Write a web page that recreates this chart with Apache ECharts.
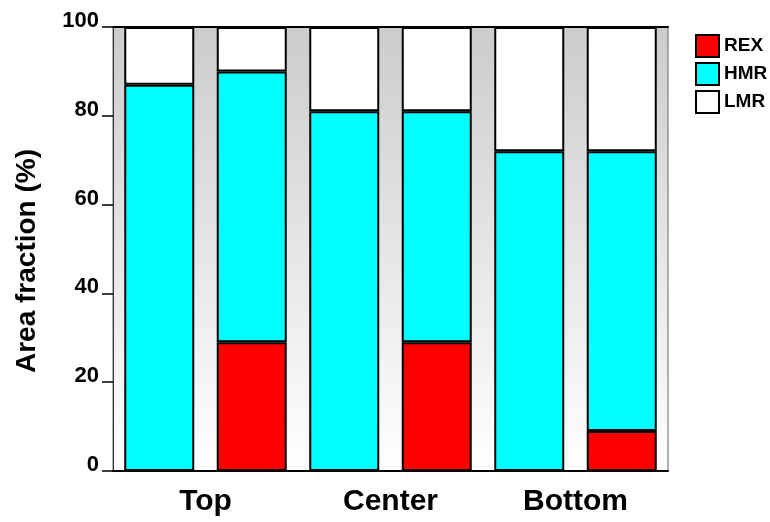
<!DOCTYPE html>
<html><head><meta charset="utf-8">
<script src="https://cdn.jsdelivr.net/npm/echarts@6/dist/echarts.min.js"></script>
<style>html,body{margin:0;padding:0;background:#fff}#c{width:770px;height:522px}</style>
</head><body><div id="c"></div>
<script>
const bars = ['b1','b2','b3','b4','b5','b6'];
const groups = ['Top','Center','Bottom'];
const REX = [0, 29, 0, 29, 0, 9];
const HMR = [87, 61, 81, 52, 72, 63];
const LMR = [13, 10, 19, 19, 28, 28];
const yTicks = [0, 20, 40, 60, 80, 100];
const yTitle = 'Area fraction (%)';

const chart = echarts.init(document.getElementById('c'));
const font = 'Liberation Sans, Arial, sans-serif';
const barStyle = c => ({color: c, borderColor: '#000', borderWidth: 2});
chart.setOption({
  animation: false,
  grid: {left: 113, right: 102, top: 27, bottom: 51, show: true,
    borderColor: '#666', borderWidth: 1,
    backgroundColor: {type: 'linear', x: 0, y: 0, x2: 0, y2: 1,
      colorStops: [{offset: 0, color: '#cccccc'}, {offset: 1, color: '#ffffff'}]}},
  legend: {orient: 'vertical', left: 690, top: 29, itemWidth: 23, itemHeight: 22, itemGap: 4,
    icon: 'rect',
    textStyle: {fontFamily: font, fontWeight: 'bold', fontSize: 19, color: '#000', padding: [3, 0, 0, 0]},
    data: ['REX', 'HMR', 'LMR']},
  graphic: [{type: 'text', rotation: Math.PI / 2,
    style: {text: yTitle, font: 'bold 28px ' + font, fill: '#000', textAlign: 'center', textVerticalAlign: 'middle'},
    position: [27, 261]}],
  xAxis: [
    {type: 'category', data: bars, position: 'bottom',
      axisLine: {lineStyle: {color: '#000', width: 2}}, axisTick: {show: false}, axisLabel: {show: false}},
    {type: 'category', data: groups, position: 'bottom', offset: 0,
      axisLine: {show: false}, axisTick: {show: false},
      axisLabel: {fontFamily: font, fontWeight: 'bold', fontSize: 30, color: '#000', margin: 16}},
    {type: 'category', data: bars, position: 'top',
      axisLine: {lineStyle: {color: '#000', width: 2}}, axisTick: {show: false}, axisLabel: {show: false}}
  ],
  yAxis: {type: 'value', min: 0, max: 100, interval: 20,
    axisLine: {show: true, lineStyle: {color: '#333', width: 1}},
    axisTick: {show: true, length: 11, lineStyle: {color: '#000', width: 1.5}},
    axisLabel: {fontFamily: font, fontWeight: 'bold', fontSize: 22, color: '#000', margin: 14,
      verticalAlign: 'bottom', lineHeight: 12,
      formatter: v => yTicks.includes(v) ? String(v) : ''},
    splitLine: {show: false}},
  series: [
    {name: 'REX', type: 'bar', stack: 's', data: REX, barWidth: 70, itemStyle: barStyle('#ff0000')},
    {name: 'HMR', type: 'bar', stack: 's', data: HMR, barWidth: 70, itemStyle: barStyle('#00ffff')},
    {name: 'LMR', type: 'bar', stack: 's', data: LMR, barWidth: 70, itemStyle: barStyle('#ffffff')}
  ]
});
</script></body></html>
